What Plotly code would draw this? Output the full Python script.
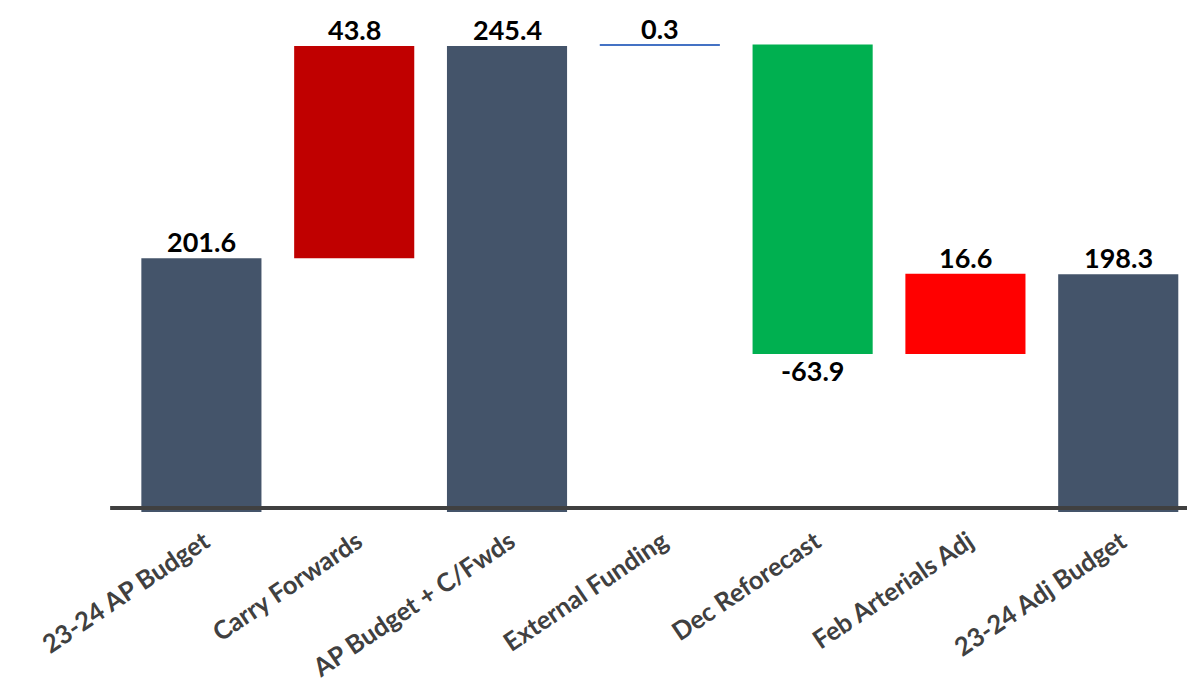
import plotly.graph_objects as go

categories = ["23-24 AP Budget", "Carry Forwards", "AP Budget + C/Fwds",
              "External Funding", "Dec Reforecast", "Feb Arterials Adj", "23-24 Adj Budget"]
values = [201.6, 43.8, 245.4, 0.3, -63.9, 16.6, 198.3]
kinds = ["total", "delta", "total", "delta", "delta", "delta", "total"]
labels = ["201.6", "43.8", "245.4", "0.3", "-63.9", "16.6", "198.3"]
colors = ["#44546A", "#C00000", "#44546A", "#4472C4", "#00B050", "#FF0000", "#44546A"]
axis_base = 150

bases, ys, tops, bottoms = [], [], [], []
running = 0.0
for v, k in zip(values, kinds):
    if k == "total":
        running = v
        bases.append(0)
        ys.append(v)
        tops.append(v)
        bottoms.append(0)
    else:
        bases.append(running)
        ys.append(v)
        tops.append(max(running, running + v))
        bottoms.append(min(running, running + v))
        running += v

fig = go.Figure()
fig.add_trace(go.Bar(
    x=categories, y=ys, base=bases,
    marker=dict(color=colors, line=dict(width=0)),
    width=0.786, hoverinfo="skip",
))

lab_font = dict(family="Lato", size=27, color="#000000", weight="bold")
annotations = []
for c, v, lab, t, b in zip(categories, values, labels, tops, bottoms):
    if v >= 0:
        annotations.append(dict(x=c, y=t, text=lab, showarrow=False,
                                yanchor="bottom", yshift=-2, xref="x", yref="y", font=lab_font))
    else:
        annotations.append(dict(x=c, y=b, text=lab, showarrow=False,
                                yanchor="top", yshift=2, xref="x", yref="y", font=lab_font))

fig.update_layout(
    width=1187, height=689,
    margin=dict(l=125, r=0, t=14, b=177, autoexpand=False),
    plot_bgcolor="white", paper_bgcolor="white",
    showlegend=False,
    annotations=annotations,
    shapes=[dict(type="line", xref="paper", yref="y", x0=-0.014, x1=1.0,
                 y0=axis_base, y1=axis_base, line=dict(color="#404040", width=4), layer="above")],
    xaxis=dict(range=[-0.5, 6.45], tickangle=-34, showgrid=False, showline=False,
               automargin=False,
               ticks="", ticklabelstandoff=9, ticklabelshift=3,
               tickfont=dict(family="Lato", size=25.5, color="#404040", weight="bold")),
    yaxis=dict(range=[149.2, 252], visible=False, showgrid=False, automargin=False),
)

fig.write_html("out.html")
